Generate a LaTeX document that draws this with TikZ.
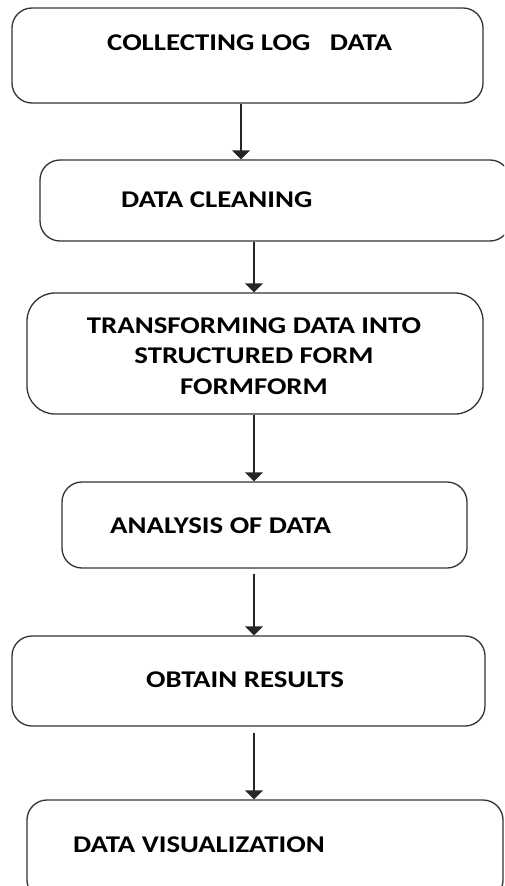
\documentclass[tikz,border=0pt]{standalone}
\usepackage{fontspec}
\setmainfont{Carlito}
\usetikzlibrary{arrows.meta}
\tikzset{
  box/.style={draw=black!80, line width=1.3pt, rounded corners=20pt, rectangle, inner sep=0pt},
  lbl/.style={inner sep=0pt, xscale=1.2, transform shape, font=\fontsize{24}{28}\selectfont\bfseries, text=black},
  arr/.style={draw=black!85, line width=1.3pt, -{Triangle[width=18pt,length=9pt]}}
}
\begin{document}
\begin{tikzpicture}[x=1pt,y=-1pt]
\useasboundingbox (0,0) rectangle (504,886);
\clip (0,0) rectangle (504,886);
\node[box, minimum width=471pt, minimum height=95pt] (b1) at (247.5,55.5) {};
\node[box, minimum width=470pt, minimum height=81pt] (b2) at (275,200.5) {};
\node[box, rounded corners=28pt, minimum width=456pt, minimum height=121pt] (b3) at (255,353.5) {};
\node[box, minimum width=405pt, minimum height=86pt] (b4) at (264.5,525) {};
\node[box, minimum width=473pt, minimum height=90pt] (b5) at (248.5,681) {};
\node[box, minimum width=476pt, minimum height=100pt] (b6) at (265,850) {};

\node[lbl, anchor=west] (t1) at (107,43) {COLLECTING LOG\ \ \ DATA};
\node[lbl, anchor=west] (t2) at (121,200) {DATA CLEANING};
\node[lbl, align=center, font=\fontsize{24}{30.5}\selectfont\bfseries] (t3) at (254,356) {TRANSFORMING DATA INTO\\STRUCTURED FORM\\FORMFORM};
\node[lbl, anchor=west] (t4) at (110,526) {ANALYSIS OF DATA};
\node[lbl, anchor=west] (t5) at (146,680) {OBTAIN RESULTS};
\node[lbl, anchor=west] (t6) at (73,845) {DATA VISUALIZATION};

\draw[arr] ([xshift=-6.5pt]b1.south) -- ([xshift=-34pt]b2.north);
\draw[arr] ([xshift=-21pt]b2.south) -- ([xshift=-1pt]b3.north);
\draw[arr] ([xshift=-1pt]b3.south) -- ([xshift=-10.5pt]b4.north);
\draw[arr, shorten <=5pt] ([xshift=-10.5pt]b4.south) -- ([xshift=5.5pt]b5.north);
\draw[arr, shorten <=6pt] ([xshift=5.5pt]b5.south) -- ([xshift=-11pt]b6.north);
\end{tikzpicture}
\end{document}
